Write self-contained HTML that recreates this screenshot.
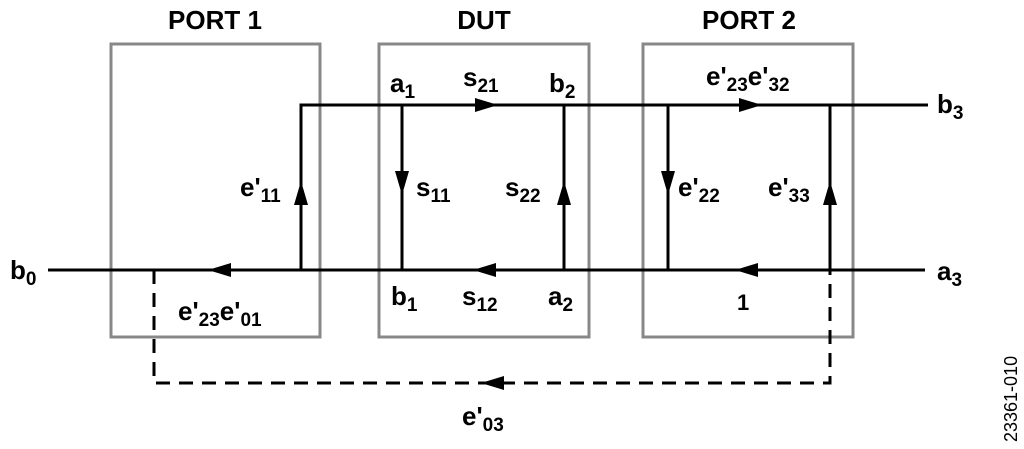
<!DOCTYPE html>
<html><head><meta charset="utf-8"><style>
html,body{margin:0;padding:0;background:#fff}
svg{display:block}
text{font-family:"Liberation Sans",Arial,sans-serif;font-weight:bold;fill:#000}
</style></head><body>
<svg width="1024" height="449" viewBox="0 0 1024 449" xmlns="http://www.w3.org/2000/svg">
<g fill="none" stroke="#888" stroke-width="3">
<rect x="111" y="44" width="209" height="293"/>
<rect x="379" y="44" width="210" height="293"/>
<rect x="643" y="44" width="210" height="293"/>
</g>
<g stroke="#000" stroke-width="3" fill="none">
<polyline points="301,270 301,105 928,105"/>
<line x1="48" y1="270" x2="925" y2="270"/>
<line x1="402" y1="105" x2="402" y2="270"/>
<line x1="564" y1="105" x2="564" y2="270"/>
<line x1="668" y1="105" x2="668" y2="270"/>
<line x1="830" y1="105" x2="830" y2="270"/>
<polyline points="154,270 154,383 830,383 830,270" stroke-dasharray="14,9"/>
</g>
<g fill="#000">
<polygon points="208,270 231,263 231,277"/>
<polygon points="473,270 496,263 496,277"/>
<polygon points="735,270 758,263 758,277"/>
<polygon points="498,105 475,98 475,112"/>
<polygon points="762,105 739,98 739,112"/>
<polygon points="301,181 294,205 308,205"/>
<polygon points="564,181 557,205 571,205"/>
<polygon points="830,181 823,205 837,205"/>
<polygon points="402,195 395,171 409,171"/>
<polygon points="668,195 661,171 675,171"/>
<polygon points="481,383 504,376 504,390"/>
</g>
<g font-size="26">
<text x="215" y="29" text-anchor="middle">PORT 1</text>
<text x="484" y="29" text-anchor="middle">DUT</text>
<text x="749" y="29" text-anchor="middle">PORT 2</text>
<text x="390" y="92">a<tspan font-size="19" dy="6">1</tspan></text>
<text x="463" y="86">s<tspan font-size="19" dy="6">21</tspan></text>
<text x="549" y="92">b<tspan font-size="19" dy="6">2</tspan></text>
<text x="706" y="85">e'<tspan font-size="19" dy="6">23</tspan><tspan dy="-6">e'</tspan><tspan font-size="19" dy="6">32</tspan></text>
<text x="937" y="113">b<tspan font-size="19" dy="6">3</tspan></text>
<text x="240" y="196">e'<tspan font-size="19" dy="6">11</tspan></text>
<text x="416" y="196">s<tspan font-size="19" dy="6">11</tspan></text>
<text x="505" y="196">s<tspan font-size="19" dy="6">22</tspan></text>
<text x="678" y="196">e'<tspan font-size="19" dy="6">22</tspan></text>
<text x="768" y="196">e'<tspan font-size="19" dy="6">33</tspan></text>
<text x="10" y="279">b<tspan font-size="19" dy="6">0</tspan></text>
<text x="391" y="305">b<tspan font-size="19" dy="6">1</tspan></text>
<text x="462" y="305">s<tspan font-size="19" dy="6">12</tspan></text>
<text x="548" y="305">a<tspan font-size="19" dy="6">2</tspan></text>
<text x="737" y="310" font-size="22">1</text>
<text x="937" y="280">a<tspan font-size="19" dy="6">3</tspan></text>
<text x="178" y="320">e'<tspan font-size="19" dy="6">23</tspan><tspan dy="-6">e'</tspan><tspan font-size="19" dy="6">01</tspan></text>
<text x="462" y="425">e'<tspan font-size="19" dy="6">03</tspan></text>
</g>
<text x="0" y="0" font-size="18" style="font-weight:normal" transform="translate(1017,442) rotate(-90)">23361-010</text>
</svg>
</body></html>
